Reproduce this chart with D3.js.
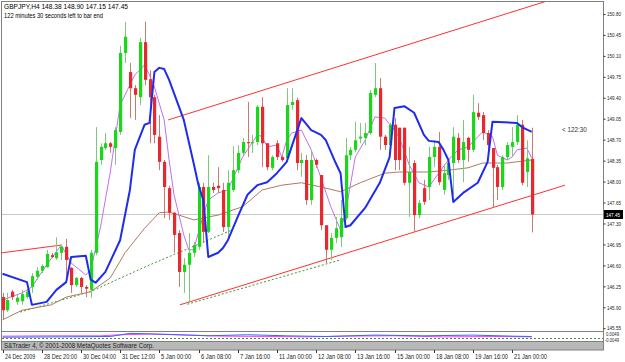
<!DOCTYPE html>
<html>
<head>
<meta charset="utf-8">
<script src="https://cdn.jsdelivr.net/npm/d3@7/dist/d3.min.js"></script>
<style>
  body { margin: 0; background: #fff; }
  svg { display: block; font-family: "Liberation Sans", Arial, sans-serif; }
</style>
</head>
<body>
<svg id="chart" width="625" height="362"></svg>
<script>
// GBPJPY H4 bars
var opens  = [146.07,145.85,146.16,145.99,146.00,146.07,146.24,146.41,146.51,146.57,146.77,146.72,146.81,146.91,146.56,146.27,146.39,146.24,146.19,146.81,
              148.36,148.56,148.64,148.56,148.83,150.15,149.83,149.56,149.41,150.33,149.71,149.41,148.75,148.33,147.89,147.48,147.14,146.49,146.61,146.81,
              146.91,147.91,147.16,147.91,147.93,147.86,147.24,147.86,148.19,148.48,148.66,148.64,148.66,149.25,148.64,148.23,148.64,148.41,148.39,149.28,
              149.36,148.31,148.36,147.69,148.36,148.11,147.27,146.86,147.06,147.07,147.39,148.44,148.53,148.72,148.73,148.81,149.45,149.56,148.75,148.61,
              148.95,148.90,148.90,147.98,148.31,147.44,147.89,147.91,148.41,148.58,147.86,148.11,148.31,148.73,148.36,148.73,148.53,149.15,149.11,148.81,
              148.56,148.24,147.91,148.41,148.58,148.66,148.95,148.16,148.38];
var highs  = [146.14,146.14,146.19,146.11,146.19,146.19,146.47,146.57,146.62,146.86,146.81,147.07,146.94,147.04,146.57,146.41,146.41,146.27,146.86,148.91,
              148.64,148.81,148.66,148.91,150.27,150.67,149.98,149.61,150.40,150.67,149.86,149.45,149.11,148.36,147.93,147.49,147.19,146.72,147.14,146.99,
              147.98,147.98,148.44,147.98,148.24,147.98,148.19,148.59,148.61,148.73,149.33,148.78,149.28,149.41,148.64,148.44,148.69,148.44,149.56,149.56,
              149.40,148.48,148.44,148.53,148.39,148.11,147.27,147.14,147.41,147.69,148.73,148.58,149.00,148.98,148.98,149.53,149.98,149.73,148.78,148.98,
              149.06,148.90,148.90,148.58,148.36,147.69,148.03,148.58,148.69,148.83,148.28,148.36,148.91,148.81,149.03,148.75,149.45,149.31,149.16,148.86,
              148.56,148.28,148.44,148.66,148.91,149.11,149.03,148.69,148.90];
var lows   = [145.69,145.82,146.02,145.94,145.94,146.04,146.14,146.36,146.47,146.56,146.72,146.69,146.69,146.31,146.14,146.24,146.14,146.07,146.06,146.77,
              148.28,148.53,148.48,148.28,148.78,149.98,149.06,149.03,149.28,149.61,148.64,148.64,148.19,147.39,147.36,146.81,146.24,146.14,145.97,146.74,
              146.86,146.97,147.14,147.81,147.81,147.16,147.06,147.83,148.14,148.44,148.41,148.48,148.61,148.24,148.19,148.19,148.36,148.33,148.36,149.20,
              148.19,148.08,147.61,147.61,148.23,147.19,146.64,146.69,146.97,146.91,147.36,148.36,148.49,148.64,148.61,148.78,149.41,148.53,148.53,148.58,
              148.19,148.19,147.94,147.41,147.16,147.39,147.61,147.69,148.24,147.94,147.78,148.03,147.78,148.31,147.99,148.33,148.49,149.03,148.69,148.53,
              147.56,147.69,147.86,148.36,148.41,148.61,147.94,147.91,147.15];
var closes = [145.85,146.02,146.07,146.06,146.12,146.16,146.42,146.51,146.59,146.79,146.74,146.82,146.91,146.69,146.27,146.39,146.24,146.21,146.81,148.33,
              148.58,148.64,148.58,148.86,150.15,150.42,149.56,149.45,150.33,149.70,149.41,148.78,148.33,147.91,147.48,147.11,146.49,146.61,146.81,146.94,
              147.91,147.16,147.91,147.86,147.89,147.24,147.98,148.19,148.48,148.66,148.64,148.66,149.25,148.64,148.24,148.41,148.41,148.36,149.28,149.33,
              148.31,148.36,147.69,148.36,148.28,147.27,146.86,147.06,147.22,147.39,148.44,148.53,148.69,148.75,148.81,149.48,149.56,148.75,148.61,148.95,
              148.36,148.36,147.98,148.16,147.44,147.64,147.66,148.41,148.58,147.99,148.14,148.31,148.75,148.36,148.66,148.53,149.16,149.08,148.81,148.61,
              148.23,147.91,148.41,148.61,148.66,148.95,147.98,148.39,147.45];

// indicator lines as [bar, price]
var blueLine = [[0,146.46],[5,146.32],[6,145.94],[9,145.99],[11,146.19],[13,146.32],[14,146.74],[17,146.76],[18,146.36],[19,146.31],[21,146.49],
                [24,147.02],[26,147.86],[27,148.53],[29,148.95],[30,148.98],[31,149.83],[32,149.90],[33,149.88],[34,149.70],[37,149.03],[39,148.31],
                [40,147.94],[41,147.69],[42,146.74],[44,146.81],[45,146.89],[46,147.02],[48,147.41],[50,147.78],[52,147.94],[54,147.99],[56,148.14],
                [58,148.33],[59,148.58],[61,149.06],[63,148.86],[65,148.78],[66,148.69],[68,148.31],[69,148.14],[70,147.24],[71,147.27],[74,147.56],
                [77,147.98],[79,148.41],[80,149.23],[82,149.26],[84,149.15],[86,148.78],[87,148.68],[89,148.66],[90,148.53],[91,148.36],[92,147.66],
                [94,147.81],[97,147.98],[99,148.33],[100,149.00],[105,148.98],[106,148.91],[108,148.83]];
var violetLine = [[0,146.02],[4,146.14],[6,146.24],[9,146.61],[12,146.94],[14,146.64],[17,146.44],[18,146.52],[20,147.24],[22,148.16],[24,149.28],
                  [27,149.78],[29,149.95],[30,149.78],[31,149.58],[33,149.03],[34,148.36],[35,147.78],[37,147.11],[38,146.86],[39,146.86],[41,147.44],
                  [42,147.69],[44,147.81],[46,147.86],[49,148.41],[50,148.53],[52,148.78],[53,148.75],[54,148.58],[56,148.61],[57,148.41],[58,148.69],
                  [59,148.81],[61,148.86],[63,148.53],[65,148.06],[67,147.58],[69,147.19],[70,147.48],[72,148.41],[74,148.69],[76,149.08],[78,149.06],
                  [80,148.86],[81,148.73],[83,148.28],[85,147.98],[87,147.91],[89,148.14],[91,148.36],[93,148.53],[95,148.58],[97,148.75],[98,148.83],
                  [100,148.75],[101,148.44],[103,148.36],[104,148.41],[105,148.53],[107,148.56],[108,148.39]];
var brownLine = [[0,145.69],[4,145.85],[10,145.94],[13,146.07],[18,146.16],[22,146.39],[25,146.81],[29,147.22],[32,147.48],[34,147.49],[36,147.44],
                 [39,147.36],[44,147.44],[49,147.58],[53,147.86],[57,147.94],[61,147.98],[65,147.91],[69,147.83],[73,147.98],[78,148.14],[81,148.16],
                 [87,148.16],[91,148.19],[95,148.23],[98,148.31],[103,148.31],[108,148.36]];

// drawn trend lines: [bar1, price1, bar2, price2]
var redLines = [[-0.1,146.81,12.1,146.94],[33.8,149.03,112.4,151.05],[36.2,145.94,114.8,147.94]];
var greenDotted = [[[3.6,145.82],[17.9,146.16],[30.1,146.61],[46.8,147.19]],[[37.7,145.95],[68.9,146.69]]];

var priceTicks = [150.80,150.45,150.10,149.75,149.40,149.05,148.70,148.35,148.00,147.65,147.30,146.95,146.60,146.25,145.90,145.55];
var timeLabels = ["24 Dec 2009","28 Dec 20:00","30 Dec 04:00","31 Dec 12:00","5 Jan 00:00","6 Jan 08:00","7 Jan 16:00",
                  "11 Jan 00:00","12 Jan 08:00","13 Jan 16:00","15 Jan 00:00","18 Jan 08:00","19 Jan 16:00","21 Jan 00:00"];
var labelEvery = 8;
var lastPrice = 147.45;

// oscillator sub-window (two lines, scaled 0..1)
var oscA = [[0,0.55],[10,0.6],[20,0.6],[24,0.75],[30,0.85],[38,0.7],[45,0.55],[55,0.5],[62,0.45],[70,0.55],[80,0.6],[90,0.45],[100,0.5],[108,0.45]];
var oscB = [[0,0.4],[12,0.45],[22,0.5],[26,0.95],[34,0.8],[42,0.6],[50,0.75],[58,0.6],[66,0.5],[76,0.7],[86,0.6],[96,0.7],[104,0.55],[108,0.5]];

var svg = d3.select("#chart");
var W = 625, H = 362;
var padL = 2, padR = 603.5, padT = 2, mainBottom = 331, subBottom = 341, bandBottom = 350;
var charW = 2.75; // small MT4 font, px per character

var x = d3.scaleLinear().domain([0, 108]).range([2.5, 531.7]);
var y = d3.scaleLinear().domain([145.55, 150.80]).range([328.2, 14]);
var ySub = d3.scaleLinear().domain([0, 1]).range([340, 333]);

function smallText(g, tx, ty, str, size, color) {
    return g.append("text")
        .attr("x", tx).attr("y", ty)
        .attr("textLength", str.length * charW)
        .attr("lengthAdjust", "spacingAndGlyphs")
        .style("font-size", size + "px")
        .attr("fill", color)
        .text(str);
}

svg.append("rect").attr("width", W).attr("height", H).attr("fill", "#fff");

svg.append("clipPath").attr("id", "mainClip")
    .append("rect").attr("x", padL).attr("y", padT).attr("width", padR - padL).attr("height", mainBottom - padT);
var plot = svg.append("g").attr("clip-path", "url(#mainClip)");

// last price line
plot.append("line")
    .attr("x1", padL).attr("x2", padR)
    .attr("y1", Math.round(y(lastPrice)) + 0.5).attr("y2", Math.round(y(lastPrice)) + 0.5)
    .attr("stroke", "#c8c8c8").attr("stroke-width", 1);

// trend lines
redLines.forEach(function(l) {
    plot.append("line")
        .attr("x1", x(l[0])).attr("y1", y(l[1]))
        .attr("x2", x(l[2])).attr("y2", y(l[3]))
        .attr("stroke", "#ff3030").attr("stroke-width", 1);
});
var lineGen = d3.line().x(function(d) { return x(d[0]); }).y(function(d) { return y(d[1]); });
greenDotted.forEach(function(pts) {
    plot.append("path").attr("d", lineGen(pts))
        .attr("fill", "none").attr("stroke", "#3a9a3a").attr("stroke-width", 1)
        .style("stroke-dasharray", "2 2");
});

// moving averages
plot.append("path").attr("d", lineGen(brownLine))
    .attr("fill", "none").attr("stroke", "#b07a60").attr("stroke-width", 1);
plot.append("path").attr("d", lineGen(violetLine))
    .attr("fill", "none").attr("stroke", "#c070f0").attr("stroke-width", 1);

// candles
var idx = d3.range(opens.length);
plot.selectAll(".wick")
    .data(idx)
    .enter()
    .append("line")
    .attr("x1", function(i) { return Math.round(x(i)) + 0.5; })
    .attr("x2", function(i) { return Math.round(x(i)) + 0.5; })
    .attr("y1", function(i) { return y(highs[i]); })
    .attr("y2", function(i) { return y(lows[i]); })
    .attr("stroke", function(i) { return closes[i] >= opens[i] ? "#7ec87e" : "#c87a6e"; })
    .attr("stroke-width", 1);

plot.selectAll(".body")
    .data(idx)
    .enter()
    .append("rect")
    .attr("x", function(i) { return Math.round(x(i)) - 1; })
    .attr("width", 3.2)
    .attr("y", function(i) { return y(Math.max(opens[i], closes[i])); })
    .attr("height", function(i) { return Math.max(1, Math.abs(y(opens[i]) - y(closes[i]))); })
    .attr("fill", function(i) { return closes[i] >= opens[i] ? "#18d818" : "#e8282e"; });

// thick blue line on top
plot.append("path").attr("d", lineGen(blueLine))
    .attr("fill", "none").attr("stroke", "#1f2bf0").attr("stroke-width", 2)
    .attr("stroke-linejoin", "round");

// header text
svg.append("text").attr("x", 4).attr("y", 9).text("GBPJPY,H4 148.38 148.90 147.15 147.45")
    .attr("textLength", 124).attr("lengthAdjust", "spacingAndGlyphs")
    .style("font-size", "7px").attr("fill", "#000");
svg.append("text").attr("x", 4).attr("y", 18).text("122 minutes 30 seconds left to bar end")
    .attr("textLength", 99).attr("lengthAdjust", "spacingAndGlyphs")
    .style("font-size", "7px").attr("fill", "#000");
smallText(svg, 562, 132, "<  122:30", 6.5, "#333");

// sub window oscillator
var subLine = d3.line().x(function(d) { return x(d[0]); }).y(function(d) { return ySub(d[1]); });
svg.append("path").attr("d", subLine(oscA)).attr("fill", "none").attr("stroke", "#ff40ff").attr("stroke-width", 1);
svg.append("path").attr("d", subLine(oscB)).attr("fill", "none").attr("stroke", "#4060ff").attr("stroke-width", 1);
svg.append("line").attr("x1", padL).attr("x2", padR).attr("y1", 338.5).attr("y2", 338.5)
    .attr("stroke", "#3a9a3a").style("stroke-dasharray", "2 2");

// copyright band
svg.append("rect").attr("x", padL).attr("y", subBottom).attr("width", padR - padL).attr("height", bandBottom - subBottom)
    .attr("fill", "#b8b8b8");
svg.append("text").attr("x", 4).attr("y", 348).text("S&Trader 4, \u00a9 2001-2008 MetaQuotes Software Corp.")
    .attr("textLength", 150).attr("lengthAdjust", "spacingAndGlyphs")
    .style("font-size", "7px").attr("fill", "#222");

// frame
svg.append("rect").attr("x", padL - 0.5).attr("y", padT - 0.5).attr("width", padR - padL + 0.5).attr("height", bandBottom - padT + 0.5)
    .attr("fill", "none").attr("stroke", "#808080").attr("stroke-width", 1);
svg.append("line").attr("x1", padL).attr("x2", padR).attr("y1", mainBottom + 0.5).attr("y2", mainBottom + 0.5)
    .attr("stroke", "#808080");
svg.append("line").attr("x1", padL).attr("x2", padR).attr("y1", subBottom + 0.5).attr("y2", subBottom + 0.5)
    .attr("stroke", "#808080");

// price axis
var yAxis = svg.append("g").attr("transform", "translate(" + padR + ",0)")
    .call(d3.axisRight(y).tickValues(priceTicks).tickFormat(d3.format(".2f")).tickSize(2).tickPadding(1.5));
yAxis.select(".domain").remove();
yAxis.selectAll("line").attr("stroke", "#333");
yAxis.selectAll("text")
    .attr("textLength", 14).attr("lengthAdjust", "spacingAndGlyphs")
    .style("font-size", "5.5px").style("font-family", "Liberation Sans, Arial, sans-serif").attr("fill", "#222");

// last price tag
svg.append("rect").attr("x", 604).attr("y", y(lastPrice) - 4.5).attr("width", 19).attr("height", 9).attr("fill", "#000");
smallText(svg, 606, y(lastPrice) + 2.2, d3.format(".2f")(lastPrice), 5.5, "#fff").attr("textLength", 14);

// oscillator scale labels
smallText(svg, 606, 336, "0.0049", 5, "#222").attr("textLength", 13);
smallText(svg, 605, 342, "-0.0049", 5, "#222").attr("textLength", 14);

// time axis
var timeIdx = timeLabels.map(function(d, i) { return i * labelEvery; });
var xAxis = svg.append("g").attr("transform", "translate(0," + bandBottom + ")");
xAxis.selectAll(".tick")
    .data(timeIdx)
    .enter()
    .append("line")
    .attr("x1", function(d) { return Math.round(x(d)) + 0.5; })
    .attr("x2", function(d) { return Math.round(x(d)) + 0.5; })
    .attr("y1", 0).attr("y2", 3)
    .attr("stroke", "#333");
xAxis.selectAll(".lbl")
    .data(timeIdx)
    .enter()
    .append("text")
    .attr("x", function(d) { return Math.round(x(d)) + 2; })
    .attr("y", 9)
    .attr("textLength", function(d, i) { return timeLabels[i].length * charW; })
    .attr("lengthAdjust", "spacingAndGlyphs")
    .text(function(d, i) { return timeLabels[i]; })
    .style("font-size", "7px")
    .attr("fill", "#222");
</script>
</body>
</html>
